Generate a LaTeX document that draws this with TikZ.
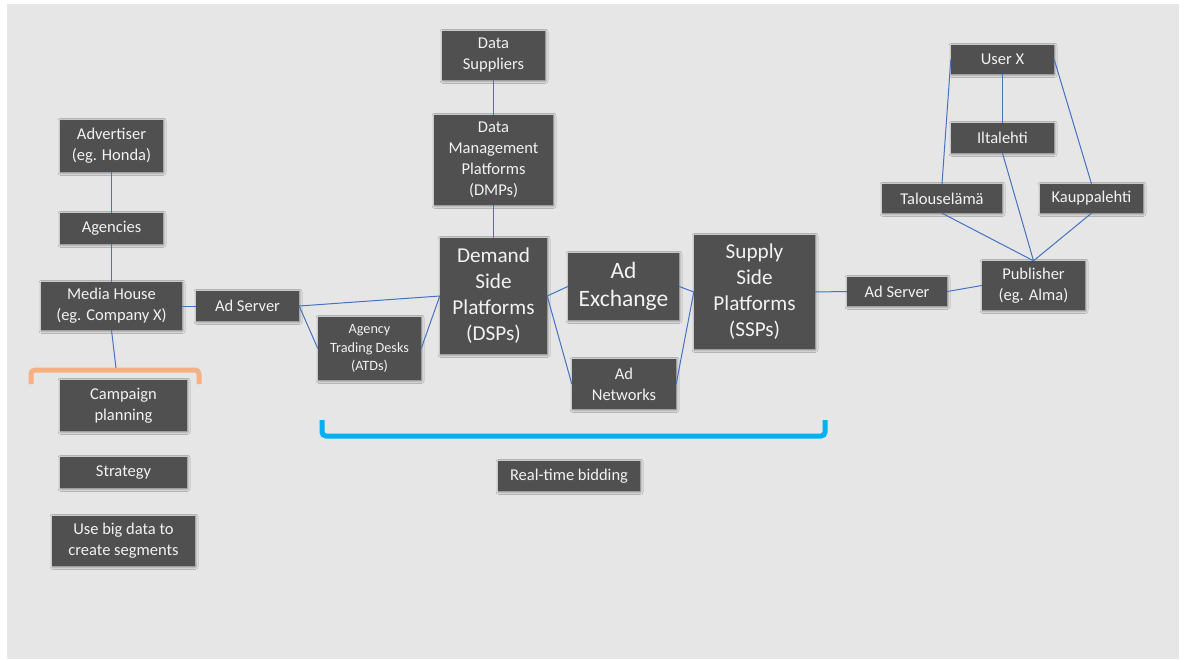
\documentclass[tikz,border=0pt]{standalone}
\usepackage{fontspec}
\setmainfont{Carlito}
\usetikzlibrary{shadows.blur}
\definecolor{bgc}{HTML}{E7E6E6}
\definecolor{boxc}{HTML}{505050}
\definecolor{txtc}{HTML}{F2F2F2}
\definecolor{linkc}{HTML}{4472C4}
\definecolor{orangec}{HTML}{F4B183}
\definecolor{cyanc}{HTML}{00B0F0}
\tikzset{
  box/.style={fill=boxc, text=txtc, align=center, inner sep=0pt,
    blur shadow={shadow xshift=0.6pt, shadow yshift=-0.8pt,
      shadow blur radius=2.5pt, shadow opacity=55},
    font=\fontsize{16.5}{21}\selectfont},
  bigtext/.style={font=\fontsize{21.2}{26}\selectfont},
  hugetext/.style={font=\fontsize{23.5}{28}\selectfont},
  smalltext/.style={font=\fontsize{14.2}{18.5}\selectfont},
  link/.style={draw=linkc, line width=1pt},
  bracket/.style={line width=5pt, rounded corners=4pt, line cap=butt}
}
\newcommand{\bx}[5]{\node[box, minimum width=#3pt, minimum height=#4pt, #5] (#1) at #2}
\begin{document}
\begin{tikzpicture}[x=1pt, y=-1pt]
\useasboundingbox (0,0) rectangle (1184,659);
\fill[white] (0,0) rectangle (1184,659);
\fill[bgc] (7,4) rectangle (1179,659);

% brackets
\draw[bracket, orangec] (31,384) -- (31,370) -- (199,370) -- (199,384);
\draw[bracket, cyanc] (322,420) -- (322,436) -- (825,436) -- (825,420);

% buying side
\bx{adv}{(111.5,146)}{103}{52}{}{Advertiser\\(eg. Honda)};
\bx{agen}{(111.5,228.5)}{103}{31}{}{Agencies};
\bx{media}{(111.5,306)}{141}{48}{}{Media House\\(eg. Company X)};
\bx{adsL}{(247.5,306)}{103}{30}{}{Ad Server};
\bx{camp}{(123.5,405.5)}{127}{51}{}{Campaign\\planning};
\bx{strat}{(123.5,472.5)}{127}{31}{}{Strategy};
\bx{big}{(123.5,541)}{143}{50}{}{Use big data to\\create segments};

% trading platforms
\bx{atd}{(369.5,348.5)}{103}{63}{smalltext}{Agency\\Trading Desks\\(ATDs)};
\bx{sup}{(493.5,55.5)}{103}{49}{}{Data\\Suppliers};
\bx{dmp}{(493.5,160)}{119}{90}{}{Data\\Management\\Platforms\\(DMPs)};
\bx{dsp}{(493.5,296)}{107}{116}{bigtext}{Demand\\Side\\Platforms\\(DSPs)};
\bx{adx}{(623.5,286.5)}{111}{67}{hugetext}{Ad\\Exchange};
\bx{adn}{(624,384)}{104}{50}{}{Ad\\Networks};
\bx{ssp}{(754.5,292)}{121}{114}{bigtext}{Supply\\Side\\Platforms\\(SSPs)};
\bx{rtb}{(569,476)}{142}{30}{}{Real-time bidding};

% selling side
\bx{adsR}{(897,291.5)}{100}{29}{}{Ad Server};
\bx{pub}{(1033.5,285.5)}{103}{49}{}{Publisher\\(eg. Alma)};
\bx{user}{(1002.5,59.5)}{103}{29}{}{User X};
\bx{ilta}{(1002.5,138)}{103}{30}{}{Iltalehti};
\bx{talo}{(942,198.5)}{120}{29}{}{Talouselämä};
\bx{kaup}{(1091.5,198.5)}{103}{29}{}{Kauppalehti};

\coordinate (brk) at (116,368);

% connectors
\draw[link] (adv.south) -- (agen.north);
\draw[link] (agen.south) -- (media.north);
\draw[link] (media.south) -- (brk);
\draw[link] (media.east) -- (adsL.west);
\draw[link] (adsL.east) -- (dsp.west);
\draw[link] (adsL.east) -- (atd.west);
\draw[link] (atd.east) -- (dsp.west);
\draw[link] (sup.south) -- (dmp.north);
\draw[link] (dmp.south) -- (dsp.north);
\draw[link] (dsp.east) -- (adx.west);
\draw[link] (dsp.east) -- (adn.west);
\draw[link] (adx.east) -- (ssp.west);
\draw[link] (adn.east) -- (ssp.west);
\draw[link] (ssp.east) -- (adsR.west);
\draw[link] (adsR.east) -- (pub.west);
\draw[link] (user.west) -- (talo.north);
\draw[link] (user.south) -- (ilta.north);
\draw[link] (user.east) -- (kaup.north);
\draw[link] (ilta.south) -- (pub.north);
\draw[link] (talo.south) -- (pub.north);
\draw[link] (kaup.south) -- (pub.north);
\end{tikzpicture}
\end{document}
